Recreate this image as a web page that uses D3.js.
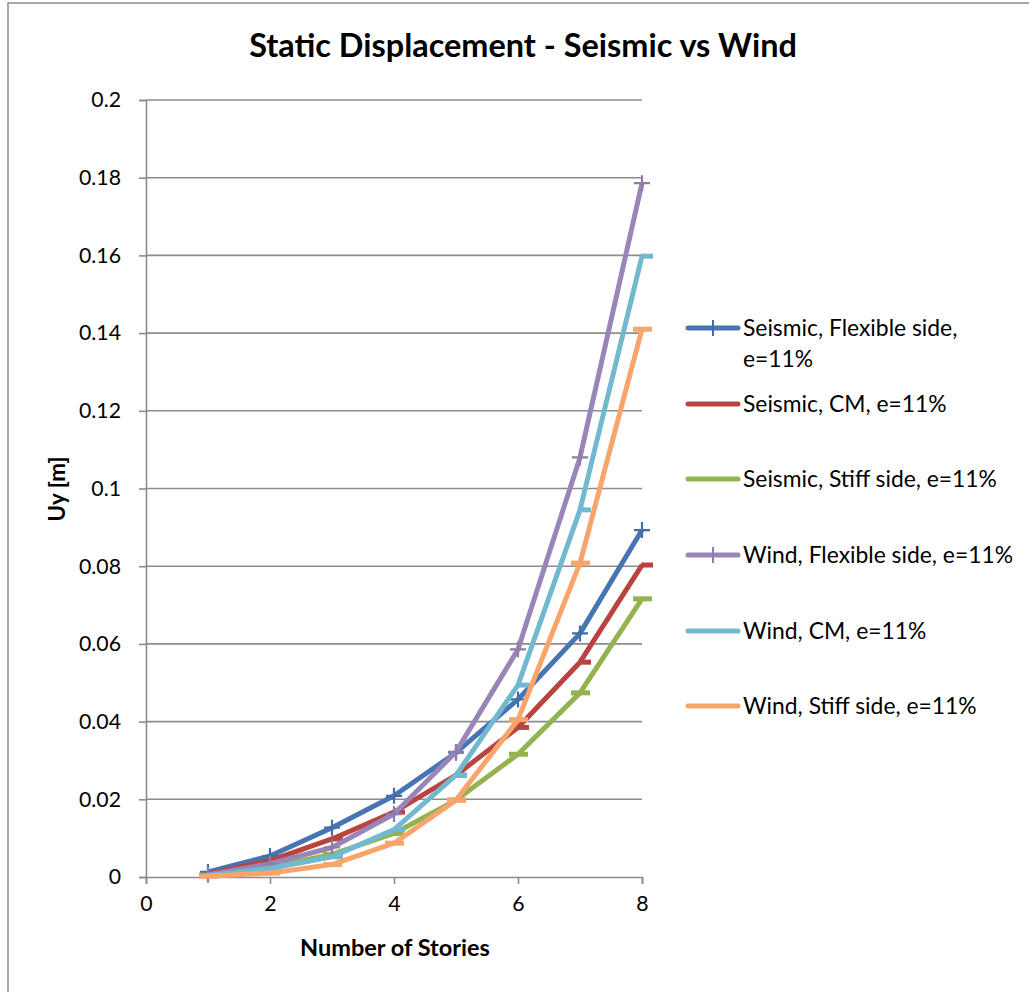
<!DOCTYPE html>
<html>
<head>
<meta charset="utf-8">
<script src="https://cdn.jsdelivr.net/npm/d3@7"></script>
<style>
  html, body { margin: 0; padding: 0; background: #fff; }
  svg { display: block; font-family: Lato, "Open Sans", sans-serif; }
</style>
</head>
<body>
<svg id="chart" width="1029" height="992"></svg>
<script>
// Number of stories (x) and top-floor displacement Uy in metres (y)
const stories = [1, 2, 3, 4, 5, 6, 7, 8];

const seismicFlexible = [0.0013, 0.0054, 0.0127, 0.0209, 0.0320, 0.0457, 0.0627, 0.0893];
const seismicCM       = [0.0008, 0.0042, 0.0098, 0.0167, 0.0262, 0.0385, 0.0553, 0.0803];
const seismicStiff    = [0.0005, 0.0025, 0.0058, 0.0112, 0.0198, 0.0316, 0.0474, 0.0716];
const windFlexible    = [0.0006, 0.0034, 0.0076, 0.0162, 0.0322, 0.0586, 0.1080, 0.1786];
const windCM          = [0.0004, 0.0022, 0.0052, 0.0122, 0.0262, 0.0494, 0.0945, 0.1598];
const windStiff       = [0.0002, 0.0010, 0.0032, 0.0087, 0.0198, 0.0405, 0.0808, 0.1410];

const seriesNames = [
  ["Seismic, Flexible side,", "e=11%"],
  ["Seismic, CM, e=11%"],
  ["Seismic, Stiff side, e=11%"],
  ["Wind, Flexible side, e=11%"],
  ["Wind, CM, e=11%"],
  ["Wind, Stiff side, e=11%"]
];

const yTickValues = [0, 0.02, 0.04, 0.06, 0.08, 0.1, 0.12, 0.14, 0.16, 0.18, 0.2];
const yTickLabels = ["0", "0.02", "0.04", "0.06", "0.08", "0.1", "0.12", "0.14", "0.16", "0.18", "0.2"];
const xTickValues = [0, 2, 4, 6, 8];
const xTickLabels = ["0", "2", "4", "6", "8"];

const titleText = "Static Displacement - Seismic vs Wind";
const xTitleText = "Number of Stories";
const yTitleText = "Uy [m]";

// Styling per series: colour and marker kind
const seriesStyle = [
  { color: "#4775b3", marker: "plus" },
  { color: "#b9443f", marker: "dashRight" },
  { color: "#93b34f", marker: "dash" },
  { color: "#9786b7", marker: "plus" },
  { color: "#72b9d0", marker: "dashRight" },
  { color: "#f9a46b", marker: "dash" }
];
const seriesValues = [seismicFlexible, seismicCM, seismicStiff, windFlexible, windCM, windStiff];

const svg = d3.select("#chart");
const plot = { left: 146, right: 642, top: 100, bottom: 877 };
const gridColor = "#8c8c8c";

const x = d3.scaleLinear().domain([0, 8]).range([plot.left, plot.right]);
const y = d3.scaleLinear().domain([0, 0.2]).range([plot.bottom, plot.top]);

// Scale a text element's font size so its rendered width matches a target
function fitWidth(sel, target) {
  const node = sel.node();
  const fs = parseFloat(sel.attr("font-size"));
  const w = node.getComputedTextLength();
  if (w > 0) sel.attr("font-size", (fs * target / w).toFixed(2));
  return +sel.attr("font-size");
}

// Chart frame
svg.append("rect")
  .attr("x", 8).attr("y", 3)
  .attr("width", 1060).attr("height", 1020)
  .attr("fill", "#fff")
  .attr("stroke", gridColor).attr("stroke-width", 1.5);

// Title
const title = svg.append("text")
  .attr("x", 523).attr("y", 57)
  .attr("text-anchor", "middle")
  .attr("font-weight", "bold")
  .attr("font-size", 30)
  .attr("fill", "#000")
  .text(titleText);
fitWidth(title, 548);

// Horizontal gridlines
svg.append("g")
  .selectAll("line")
  .data(yTickValues.filter(v => v > 0))
  .join("line")
  .attr("x1", plot.left).attr("x2", plot.right)
  .attr("y1", d => y(d)).attr("y2", d => y(d))
  .attr("stroke", gridColor).attr("stroke-width", 1.6);

// Y axis
const yAxis = svg.append("g")
  .attr("transform", `translate(${plot.left},0)`)
  .call(d3.axisLeft(y)
    .tickValues(yTickValues)
    .tickSize(7)
    .tickPadding(18)
    .tickFormat((d, i) => yTickLabels[i]));

// X axis
const xAxis = svg.append("g")
  .attr("transform", `translate(0,${plot.bottom})`)
  .call(d3.axisBottom(x)
    .tickValues(xTickValues)
    .tickSize(7)
    .tickPadding(12)
    .tickFormat((d, i) => xTickLabels[i]));

[yAxis, xAxis].forEach(ax => {
  ax.select(".domain").attr("stroke", gridColor).attr("stroke-width", 1.6);
  ax.selectAll(".tick line").attr("stroke", gridColor).attr("stroke-width", 1.6);
  ax.selectAll(".tick text")
    .attr("fill", "#000")
    .attr("font-family", "Lato, sans-serif")
    .attr("font-size", 21);
});

// Match tick label size to the width of "0.12"
const probe = yAxis.selectAll(".tick text").filter((d, i) => yTickLabels[i] === "0.12");
const tickSize = fitWidth(probe, 42);
yAxis.selectAll(".tick text").attr("font-size", tickSize);
xAxis.selectAll(".tick text").attr("font-size", tickSize);

// Axis titles
const xTitle = svg.append("text")
  .attr("x", 395).attr("y", 956)
  .attr("text-anchor", "middle")
  .attr("font-weight", "bold")
  .attr("font-size", 20)
  .text(xTitleText);
fitWidth(xTitle, 190);

const yTitle = svg.append("text")
  .attr("transform", "translate(65,489) rotate(-90)")
  .attr("text-anchor", "middle")
  .attr("font-weight", "bold")
  .attr("font-size", 20)
  .text(yTitleText);
fitWidth(yTitle, 65);

// Series lines
const line = d3.line()
  .x((d, i) => x(stories[i]))
  .y(d => y(d));

const seriesG = svg.append("g");
seriesValues.forEach((vals, si) => {
  const st = seriesStyle[si];
  const g = seriesG.append("g");
  g.append("path")
    .datum(vals)
    .attr("d", line)
    .attr("fill", "none")
    .attr("stroke", st.color)
    .attr("stroke-width", 5)
    .attr("stroke-linejoin", "round");

  const pts = g.selectAll("g.pt")
    .data(vals)
    .join("g")
    .attr("class", "pt")
    .attr("transform", (d, i) => `translate(${x(stories[i])},${y(d)})`);

  if (st.marker === "plus") {
    pts.append("path")
      .attr("d", "M-8,0H8M0,-8V8")
      .attr("stroke", d3.color(st.color).darker(0.2))
      .attr("stroke-width", 2.2)
      .attr("fill", "none");
  } else if (st.marker === "dash") {
    pts.append("rect")
      .attr("x", -9).attr("y", -2.5)
      .attr("width", 19).attr("height", 5)
      .attr("fill", st.color);
  } else {
    pts.append("rect")
      .attr("x", -1).attr("y", -2.5)
      .attr("width", 12).attr("height", 5)
      .attr("fill", st.color);
  }
});

// Legend
const legendRowsY = [328, 404, 479, 555, 631, 706];
const legend = svg.append("g");
const legendTexts = [];
seriesNames.forEach((lines, si) => {
  const st = seriesStyle[si];
  const ly = legendRowsY[si];
  const g = legend.append("g").attr("transform", `translate(0,${ly})`);
  g.append("line")
    .attr("x1", 688).attr("x2", 738)
    .attr("stroke", st.color)
    .attr("stroke-width", 5)
    .attr("stroke-linecap", "round");
  if (st.marker === "plus") {
    g.append("path")
      .attr("d", "M713,-8V8")
      .attr("stroke", d3.color(st.color).darker(0.2))
      .attr("stroke-width", 2);
  }
  const t = g.append("text")
    .attr("x", 743).attr("y", 0)
    .attr("font-size", 21)
    .attr("fill", "#000");
  lines.forEach((ln, li) => {
    t.append("tspan")
      .attr("x", 743)
      .attr("dy", li === 0 ? "0.35em" : 31)
      .text(ln);
  });
  legendTexts.push(t);
});
// Size legend text from the widest single-line entry
const ref = legendTexts[3];
const legendSize = fitWidth(ref, 270);
legendTexts.forEach(t => t.attr("font-size", legendSize));
</script>
</body>
</html>
